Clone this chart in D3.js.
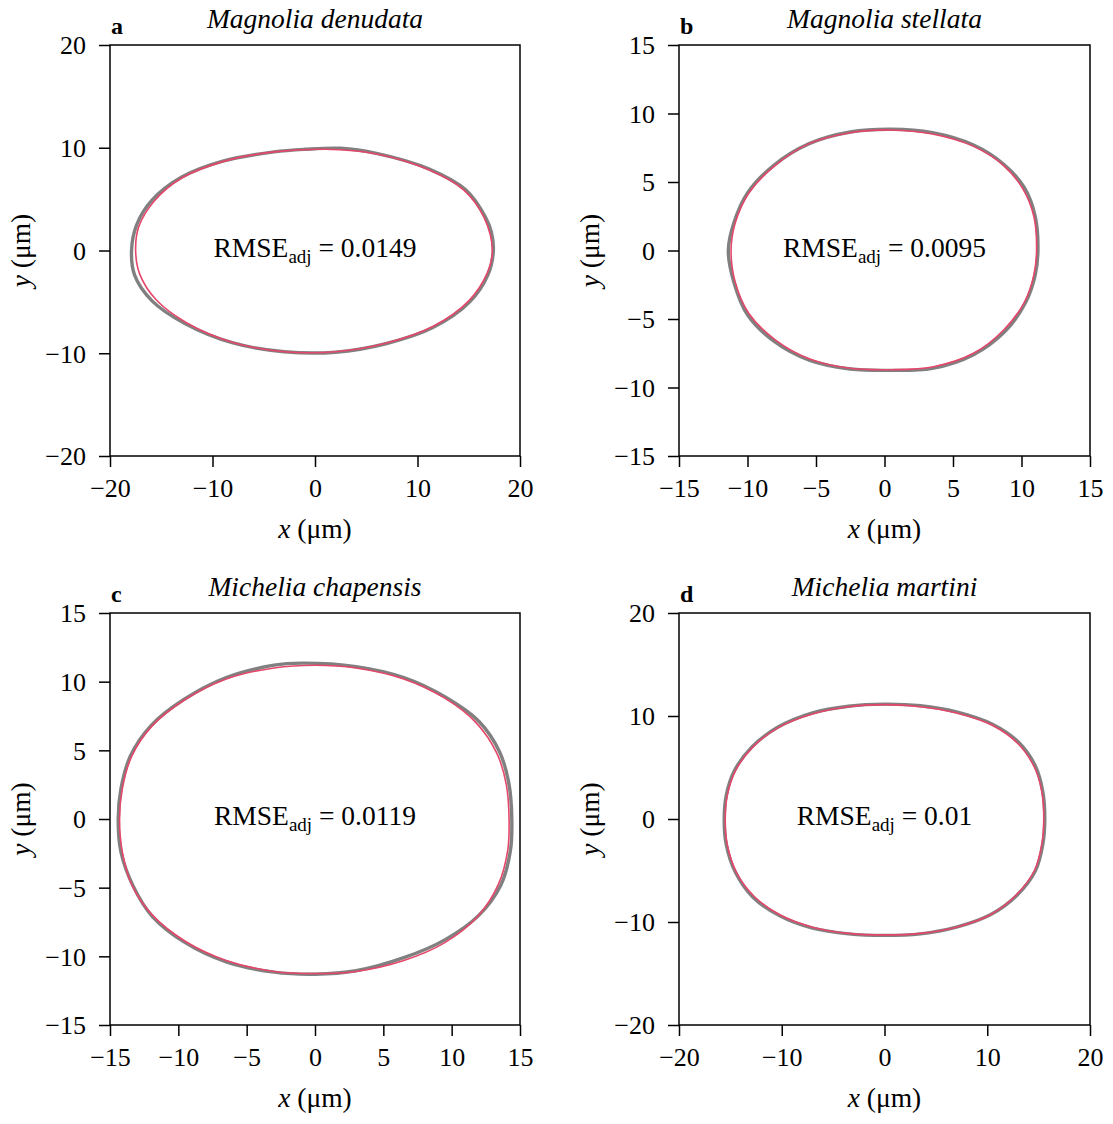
<!DOCTYPE html>
<html>
<head>
<meta charset="utf-8">
<script src="https://cdn.jsdelivr.net/npm/d3@7"></script>
<style>
  body { margin: 0; background: #fff; }
  svg { display: block; font-family: "Liberation Serif", "Times New Roman", serif; }
  .tick text { font-size: 26px; fill: #000; font-family: "Liberation Serif", "Times New Roman", serif; }
  .tick line { stroke: #000; stroke-width: 1.5; }
</style>
</head>
<body>
<div id="chart"></div>
<script>
var W = 1113
var H = 1124

// panel labels, species names and fit quality
var letters = ['a', 'b', 'c', 'd']
var species = ['Magnolia denudata', 'Magnolia stellata', 'Michelia chapensis', 'Michelia martini']
var rmse = ['0.0149', '0.0095', '0.0119', '0.01']
var limits = [20, 15, 15, 20]
var ticks20 = [-20, -10, 0, 10, 20]
var ticks15 = [-15, -10, -5, 0, 5, 10, 15]

var denudataObs = [[17.4,0],[17.2,1.8],[16.6,3.3],[14.7,5.9],[11.2,7.9],[6,9.45],[2.5,9.95],[-1,9.85],[-4,9.6],[-9,8.7],[-13,7.15],[-15.9,4.9],[-17.4,2.5],[-17.9,0],[-17.6,-2.4],[-15.9,-4.9],[-12.7,-7.1],[-8,-9.0],[-3,-9.85],[2,-9.9],[7,-9.05],[11.5,-7.5],[15.1,-5.0],[16.9,-2.3]]
var stellataObs = [[11.2,0],[11.0,2.5],[10.2,4.6],[8.7,6.3],[6.5,7.7],[3.5,8.6],[0.5,8.85],[-2.5,8.65],[-5.5,7.8],[-8.1,6.2],[-10.0,4.2],[-11.0,2],[-11.4,0],[-11.0,-2.3],[-10.0,-4.7],[-8.1,-6.6],[-5.5,-8.0],[-2.5,-8.65],[0.5,-8.75],[3.5,-8.6],[6.5,-7.6],[8.8,-5.9],[10.3,-3.8],[11.0,-1.8]]
var chapensisObs = [[14.4,0],[14.2,2.5],[13.5,4.9],[12.0,7.1],[9.5,8.9],[6.5,10.3],[3,11.1],[-1,11.35],[-3,11.2],[-6.5,10.3],[-9.6,8.7],[-12.0,6.8],[-13.5,4.6],[-14.2,2.2],[-14.4,0],[-14.2,-2.4],[-13.3,-4.9],[-11.9,-7.1],[-9.5,-9.0],[-6.5,-10.4],[-3,-11.15],[0,-11.3],[3,-11.05],[6.5,-10.1],[9.5,-8.8],[12.0,-7.0],[13.6,-4.8],[14.3,-2.3]]
var martiniObs = [[15.6,0],[15.4,2.7],[14.7,5.1],[13.1,7.4],[10.5,9.2],[7,10.4],[3.5,11.0],[0,11.15],[-3.5,10.95],[-7,10.3],[-10.4,8.9],[-12.9,7],[-14.6,4.7],[-15.4,2.3],[-15.6,0],[-15.4,-2.5],[-14.5,-5.2],[-12.8,-7.6],[-10.2,-9.4],[-7,-10.6],[-3.5,-11.15],[0,-11.3],[3.5,-11.15],[7,-10.5],[10.3,-9.3],[12.9,-7.4],[14.7,-5],[15.4,-2.5]]

// fitted curves
var denudataFit = [[17.3,0],[16.5,3.2],[14.5,5.9],[11,7.9],[6,9.4],[1,9.85],[-4,9.6],[-9,8.65],[-13,7.05],[-15.7,4.8],[-17.2,2.3],[-17.5,0],[-17.1,-2.3],[-15.5,-4.8],[-12.5,-7.05],[-8,-8.95],[-3,-9.85],[2,-9.85],[7,-9.0],[11.5,-7.4],[15,-4.9],[16.8,-2.2]]
var stellataFit = [[11.1,0],[10.9,2.5],[10.1,4.5],[8.7,6.2],[6.5,7.6],[3.5,8.5],[0.5,8.8],[-2.5,8.6],[-5.5,7.8],[-8,6.2],[-9.9,4.2],[-10.9,2],[-11.2,0],[-10.9,-2.3],[-9.9,-4.6],[-8,-6.5],[-5.5,-7.9],[-2.5,-8.6],[0.5,-8.7],[3.5,-8.5],[6.5,-7.5],[8.7,-5.8],[10.2,-3.8],[10.9,-1.8]]
var chapensisFit = [[14.2,0],[14.0,2.5],[13.3,4.8],[11.8,7],[9.5,8.8],[6.5,10.2],[3,11],[0,11.2],[-3,11],[-6.5,10.2],[-9.5,8.7],[-11.9,6.8],[-13.4,4.6],[-14.1,2.2],[-14.3,0],[-14.1,-2.4],[-13.4,-4.8],[-11.9,-7],[-9.5,-8.9],[-6.5,-10.3],[-3,-11.1],[0,-11.25],[3,-11.1],[6.5,-10.3],[9.5,-9],[11.9,-7.1],[13.4,-4.8],[14.1,-2.3]]
var martiniFit = [[15.5,0],[15.3,2.7],[14.6,5.0],[13,7.3],[10.5,9.1],[7,10.3],[3.5,10.9],[0,11.1],[-3.5,10.9],[-7,10.2],[-10.3,8.9],[-12.8,7],[-14.5,4.7],[-15.3,2.3],[-15.5,0],[-15.3,-2.5],[-14.4,-5.2],[-12.7,-7.5],[-10.2,-9.3],[-7,-10.5],[-3.5,-11.1],[0,-11.25],[3.5,-11.1],[7,-10.5],[10.3,-9.3],[12.8,-7.4],[14.6,-5],[15.3,-2.5]]

var observed = [denudataObs, stellataObs, chapensisObs, martiniObs]
var fitted = [denudataFit, stellataFit, chapensisFit, martiniFit]

var boxes = [
  {left: 110, top: 45, w: 410, h: 411},
  {left: 679, top: 45, w: 411, h: 411},
  {left: 110, top: 613, w: 410, h: 412},
  {left: 679, top: 613, w: 411, h: 412}
]

var svg = d3.select('#chart').append('svg')
  .attr('width', W)
  .attr('height', H)

letters.forEach(function(l, i) {
  drawPanel(i)
})

function drawPanel(i) {
  var b = boxes[i]
  var lim = limits[i]
  var tv = lim === 20 ? ticks20 : ticks15

  var x = d3.scaleLinear().domain([-lim, lim]).range([0, b.w])
  var y = d3.scaleLinear().domain([-lim, lim]).range([b.h, 0])

  var g = svg.append('g')
    .attr('transform', 'translate(' + b.left + ',' + b.top + ')')

  var line = d3.line()
    .x(function(d) { return x(d[0]) })
    .y(function(d) { return y(d[1]) })
    .curve(d3.curveCatmullRomClosed)

  // observed outline (grey) then fitted curve (red) on top
  g.append('path')
    .attr('d', line(observed[i]))
    .attr('fill', 'none')
    .attr('stroke', '#808080')
    .attr('stroke-width', 3.4)

  g.append('path')
    .attr('d', line(fitted[i]))
    .attr('fill', 'none')
    .attr('stroke', '#e5476a')
    .attr('stroke-width', 1.6)

  var xa = g.append('g')
    .attr('transform', 'translate(0,' + b.h + ')')
    .call(d3.axisBottom(x).tickValues(tv).tickSize(11).tickPadding(12))
  xa.attr('font-family', null).attr('font-size', null)
  xa.select('.domain').remove()

  var ya = g.append('g')
    .call(d3.axisLeft(y).tickValues(tv).tickSize(11).tickPadding(13))
  ya.attr('font-family', null).attr('font-size', null)
  ya.select('.domain').remove()
  ya.selectAll('.tick text').attr('dy', '0.34em')

  g.append('rect')
    .attr('width', b.w)
    .attr('height', b.h)
    .attr('fill', 'none')
    .attr('stroke', '#000')
    .attr('stroke-width', 1.5)

  // RMSE annotation
  var t = g.append('text')
    .attr('x', x(0))
    .attr('y', y(0) + 6)
    .attr('text-anchor', 'middle')
    .attr('font-size', 27.5)
  t.append('tspan').text('RMSE')
  t.append('tspan').attr('font-size', 19).attr('dy', 6).text('adj')
  t.append('tspan').attr('dy', -6).text(' = ' + rmse[i])

  // title and panel letter
  g.append('text')
    .attr('x', x(0))
    .attr('y', -17)
    .attr('text-anchor', 'middle')
    .attr('font-size', 27.5)
    .attr('font-style', 'italic')
    .text(species[i])

  g.append('text')
    .attr('x', 1)
    .attr('y', -11)
    .attr('font-size', 24)
    .attr('font-weight', 'bold')
    .text(letters[i])

  // axis titles
  var xl = g.append('text')
    .attr('x', x(0))
    .attr('y', b.h + 82)
    .attr('text-anchor', 'middle')
    .attr('font-size', 27.5)
  xl.append('tspan').attr('font-style', 'italic').text('x')
  xl.append('tspan').text(' (μm)')

  var yl = g.append('text')
    .attr('transform', 'translate(-80,' + y(0) + ')rotate(-90)')
    .attr('text-anchor', 'middle')
    .attr('font-size', 27.5)
  yl.append('tspan').attr('font-style', 'italic').text('y')
  yl.append('tspan').text(' (μm)')
}
</script>
</body>
</html>
